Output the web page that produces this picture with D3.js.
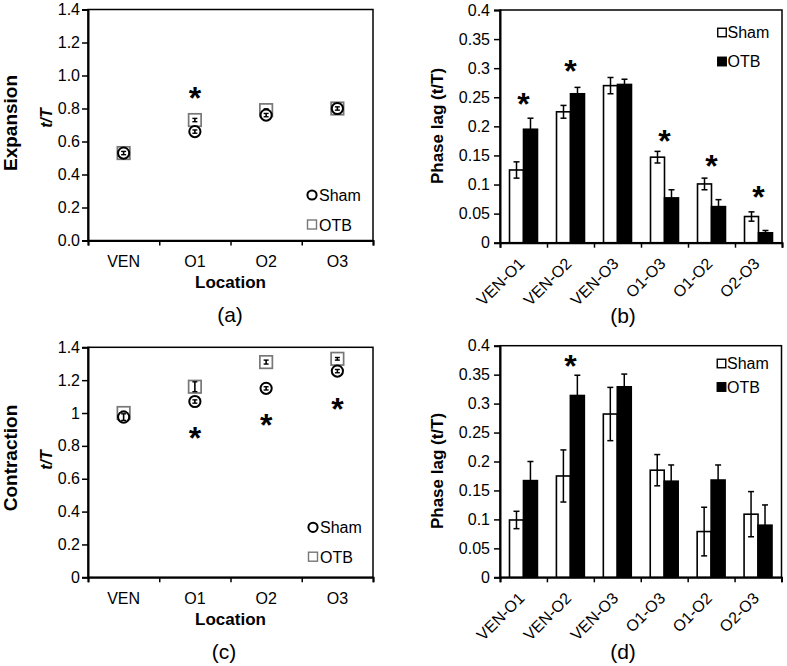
<!DOCTYPE html>
<html><head><meta charset="utf-8">
<script src="https://cdn.jsdelivr.net/npm/d3@7"></script>
<style>
html,body{margin:0;padding:0;background:#fff;}
svg text{font-family:"Liberation Sans",Arial,sans-serif;fill:#000;}
</style></head><body>
<svg id="chart" width="787" height="666"></svg>
<script>
// ---------- data ----------
const locations = ["VEN", "O1", "O2", "O3"];
const seriesNames = ["Sham", "OTB"];

const expansionSham    = [0.53, 0.66, 0.76, 0.80];
const expansionShamErr = [0.01, 0.01, 0.01, 0.01];
const expansionOtb     = [0.53, 0.73, 0.79, 0.80];
const expansionOtbErr  = [0.01, 0.01, 0.008, 0.008];
const expansionStars   = [null, 0.91, null, null];

const contractionSham    = [0.975, 1.07, 1.15, 1.255];
const contractionShamErr = [0.02, 0.01, 0.01, 0.01];
const contractionOtb     = [1.0, 1.16, 1.31, 1.33];
const contractionOtbErr  = [0.01, 0.03, 0.012, 0.008];
const contractionStars   = [null, 0.895, 0.975, 1.07];

const pairs = ["VEN-O1", "VEN-O2", "VEN-O3", "O1-O3", "O1-O2", "O2-O3"];

const expLagSham    = [0.125, 0.225, 0.270, 0.147, 0.101, 0.045];
const expLagShamErr = [0.014, 0.011, 0.014, 0.010, 0.010, 0.008];
const expLagOtb     = [0.195, 0.256, 0.272, 0.077, 0.062, 0.017];
const expLagOtbErr  = [0.019, 0.011, 0.009, 0.014, 0.012, 0.004];
const expLagStars   = [0.251, 0.308, null, 0.188, 0.144, 0.091];

const conLagSham    = [0.099, 0.175, 0.282, 0.185, 0.079, 0.109];
const conLagShamErr = [0.015, 0.045, 0.046, 0.027, 0.042, 0.039];
const conLagOtb     = [0.167, 0.314, 0.329, 0.166, 0.168, 0.090];
const conLagOtbErr  = [0.033, 0.035, 0.022, 0.028, 0.026, 0.035];
const conLagStars   = [null, 0.378, null, null, null, null];

const scatterTicks = [0, 0.2, 0.4, 0.6, 0.8, 1.0, 1.2, 1.4];
const expansionTickLabels = ["0.0", "0.2", "0.4", "0.6", "0.8", "1.0", "1.2", "1.4"];
const contractionTickLabels = ["0", "0.2", "0.4", "0.6", "0.8", "1", "1.2", "1.4"];
const lagTicks = [0, 0.05, 0.1, 0.15, 0.2, 0.25, 0.3, 0.35, 0.4];
const lagTickLabels = ["0", "0.05", "0.1", "0.15", "0.2", "0.25", "0.3", "0.35", "0.4"];

// ---------- drawing ----------
const svg = d3.select("#chart");
svg.append("rect").attr("width", 787).attr("height", 666).attr("fill", "#fff");

function styleAxis(sel, fs) {
  sel.selectAll("path.domain").attr("stroke", "#000").attr("stroke-width", 2);
  sel.selectAll(".tick line").attr("stroke", "#000").attr("stroke-width", 1.5);
  sel.selectAll(".tick text").attr("font-size", fs).attr("fill", "#000")
     .attr("font-family", '"Liberation Sans", Arial, sans-serif');
}

function star(g, x, y) {
  const fs = 32;
  g.append("text").attr("x", x).attr("y", y + 0.58 * fs)
    .attr("text-anchor", "middle").attr("font-size", fs).attr("font-weight", "bold").text("*");
}

function scatterPanel(o) {
  const g = svg.append("g");
  const x = d3.scaleBand().domain(locations).range([o.left, o.right]);
  const y = d3.scaleLinear().domain([0, 1.4]).range([o.bottom, o.top]);
  const cx = d => x(d) + x.bandwidth() / 2;

  g.append("rect").attr("x", o.left).attr("y", o.top)
    .attr("width", o.right - o.left).attr("height", o.bottom - o.top)
    .attr("fill", "none").attr("stroke", "#000").attr("stroke-width", 1.5);

  const ya = g.append("g").attr("transform", `translate(${o.left},0)`)
    .call(d3.axisLeft(y).tickValues(scatterTicks).tickFormat((d, i) => o.tickLabels[i]).tickSize(6).tickPadding(2));
  styleAxis(ya, 16);

  const xb = d3.scaleLinear().domain([0, locations.length]).range([o.left, o.right]);
  const xa = g.append("g").attr("transform", `translate(0,${o.bottom})`)
    .call(d3.axisBottom(xb).tickValues(d3.range(locations.length + 1)).tickFormat("").tickSize(5));
  styleAxis(xa, 16);
  const xl = g.append("g").attr("transform", `translate(0,${o.bottom})`)
    .call(d3.axisBottom(x).tickSize(0).tickPadding(15));
  xl.select("path.domain").remove();
  styleAxis(xl, 16);

  // squares (OTB)
  const sq = 12.5;
  g.selectAll(".sq").data(locations).join("rect")
    .attr("x", d => cx(d) - sq / 2).attr("y", (d, i) => y(o.otb[i]) - sq / 2)
    .attr("width", sq).attr("height", sq)
    .attr("fill", "#fff").attr("stroke", "#777").attr("stroke-width", 1.7);
  const errBars = (vals, errs) => {
    locations.forEach((d, i) => {
      const x0 = cx(d), y1 = y(vals[i] + errs[i]), y2 = y(vals[i] - errs[i]);
      g.append("line").attr("x1", x0).attr("x2", x0).attr("y1", y1).attr("y2", y2).attr("stroke", "#000").attr("stroke-width", 1.6);
      [y1, y2].forEach(yy => g.append("line").attr("x1", x0 - 2.5).attr("x2", x0 + 2.5).attr("y1", yy).attr("y2", yy).attr("stroke", "#000").attr("stroke-width", 1.4));
    });
  };
  errBars(o.otb, o.otbErr);
  // circles (Sham)
  g.selectAll(".ci").data(locations).join("circle")
    .attr("cx", d => cx(d)).attr("cy", (d, i) => y(o.sham[i])).attr("r", 5.6)
    .attr("fill", "#fff").attr("stroke", "#000").attr("stroke-width", 2);
  errBars(o.sham, o.shamErr);

  locations.forEach((d, i) => { if (o.stars[i] != null) star(g, cx(d), y(o.stars[i])); });

  // titles
  g.append("text").attr("transform", `translate(17,${o.titleY}) rotate(-90)`)
    .attr("text-anchor", "middle").attr("font-size", 19).attr("font-weight", "bold").text(o.title);
  g.append("text").attr("transform", `translate(52,${o.ttY}) rotate(-90)`)
    .attr("text-anchor", "middle").attr("font-size", 16).attr("font-weight", "bold").attr("font-style", "italic").text("t/T");
  g.append("text").attr("x", (o.left + o.right) / 2).attr("y", o.bottom + 47.5)
    .attr("text-anchor", "middle").attr("font-size", 17).attr("font-weight", "bold").text("Location");
  g.append("text").attr("x", o.labelX).attr("y", o.labelY)
    .attr("text-anchor", "middle").attr("font-size", 21).text(o.label);

  // legend
  const lg = g.append("g").attr("transform", `translate(${o.legX},${o.legY})`);
  lg.append("circle").attr("cx", 0).attr("cy", 0).attr("r", 4.6).attr("fill", "#fff").attr("stroke", "#000").attr("stroke-width", 2);
  lg.append("text").attr("x", 7).attr("y", 6).attr("font-size", 16).text("Sham");
  lg.append("rect").attr("x", -4.5).attr("y", o.legGap - 4.5).attr("width", 9).attr("height", 9)
    .attr("fill", "#fff").attr("stroke", "#777").attr("stroke-width", 1.4);
  lg.append("text").attr("x", 7).attr("y", o.legGap + 6).attr("font-size", 16).text("OTB");
}

function barPanel(o) {
  const g = svg.append("g");
  const x0 = d3.scaleBand().domain(pairs).range([o.left, o.right]);
  const x1 = d3.scaleBand().domain(seriesNames).range([0, x0.bandwidth()]).paddingInner(0).paddingOuter(0.68);
  const y = d3.scaleLinear().domain([0, 0.4]).range([o.bottom, o.top]);

  g.append("rect").attr("x", o.left).attr("y", o.top)
    .attr("width", o.right - o.left).attr("height", o.bottom - o.top)
    .attr("fill", "none").attr("stroke", "#000").attr("stroke-width", 1.5);

  const ya = g.append("g").attr("transform", `translate(${o.left},0)`)
    .call(d3.axisLeft(y).tickValues(lagTicks).tickFormat((d, i) => lagTickLabels[i]).tickSize(6).tickPadding(4));
  styleAxis(ya, 16);

  const series = [
    { name: "Sham", vals: o.sham, errs: o.shamErr, fill: "#fff" },
    { name: "OTB", vals: o.otb, errs: o.otbErr, fill: "#000" }
  ];
  series.forEach(s => {
    pairs.forEach((p, i) => {
      const bx = x0(p) + x1(s.name);
      g.append("rect").attr("x", bx).attr("y", y(s.vals[i]))
        .attr("width", x1.bandwidth()).attr("height", y(0) - y(s.vals[i]))
        .attr("fill", s.fill).attr("stroke", "#000").attr("stroke-width", 1.6);
    });
  });
  series.forEach(s => {
    pairs.forEach((p, i) => {
      const mx = x0(p) + x1(s.name) + x1.bandwidth() / 2;
      const y1 = y(s.vals[i] + s.errs[i]), y2 = y(s.vals[i] - s.errs[i]);
      g.append("line").attr("x1", mx).attr("x2", mx).attr("y1", y1).attr("y2", y2).attr("stroke", "#000").attr("stroke-width", 1.5);
      [y1, y2].forEach(yy => g.append("line").attr("x1", mx - 3).attr("x2", mx + 3).attr("y1", yy).attr("y2", yy).attr("stroke", "#000").attr("stroke-width", 1.5));
    });
  });

  const xb = d3.scaleLinear().domain([0, pairs.length]).range([o.left, o.right]);
  const xa = g.append("g").attr("transform", `translate(0,${o.bottom})`)
    .call(d3.axisBottom(xb).tickValues(d3.range(pairs.length + 1)).tickFormat("").tickSize(5));
  styleAxis(xa, 16);
  const xl = g.append("g").attr("transform", `translate(0,${o.bottom})`)
    .call(d3.axisBottom(x0).tickSize(0));
  xl.select("path.domain").remove();
  styleAxis(xl, 16);
  xl.selectAll(".tick text").attr("text-anchor", "end").attr("x", 0).attr("y", 0).attr("dy", 0)
    .attr("transform", "translate(2,22) rotate(-45)");

  pairs.forEach((p, i) => { if (o.stars[i] != null) star(g, x0(p) + x0.bandwidth() / 2, y(o.stars[i])); });

  g.append("text").attr("transform", `translate(443,${o.titleY}) rotate(-90)`)
    .attr("text-anchor", "middle").attr("font-size", 17).attr("font-weight", "bold").text("Phase lag (t/T)");
  g.append("text").attr("x", o.labelX).attr("y", o.labelY)
    .attr("text-anchor", "middle").attr("font-size", 21).text(o.label);

  const lg = g.append("g").attr("transform", `translate(${o.legX},${o.legY})`);
  lg.append("rect").attr("x", -4.25).attr("y", -4.25).attr("width", 8.5).attr("height", 8.5)
    .attr("fill", "#fff").attr("stroke", "#000").attr("stroke-width", 1.4);
  lg.append("text").attr("x", 5.5).attr("y", 5.8).attr("font-size", 16).text("Sham");
  lg.append("rect").attr("x", -4.25).attr("y", o.legGap - 4.25).attr("width", 8.5).attr("height", 8.5)
    .attr("fill", "#000").attr("stroke", "#000").attr("stroke-width", 1.4);
  lg.append("text").attr("x", 5.5).attr("y", o.legGap + 5.8).attr("font-size", 16).text("OTB");
}

scatterPanel({
  left: 88, right: 373, top: 9.5, bottom: 240.5,
  tickLabels: expansionTickLabels,
  sham: expansionSham, shamErr: expansionShamErr, otb: expansionOtb, otbErr: expansionOtbErr, stars: expansionStars,
  title: "Expansion", titleY: 123, ttY: 118,
  label: "(a)", labelX: 230, labelY: 322,
  legX: 312, legY: 195, legGap: 29.5
});
scatterPanel({
  left: 88, right: 373, top: 347.3, bottom: 577.3,
  tickLabels: contractionTickLabels,
  sham: contractionSham, shamErr: contractionShamErr, otb: contractionOtb, otbErr: contractionOtbErr, stars: contractionStars,
  title: "Contraction", titleY: 458, ttY: 460,
  label: "(c)", labelX: 224, labelY: 659,
  legX: 313, legY: 527.3, legGap: 29.4
});
barPanel({
  left: 500, right: 782, top: 10, bottom: 242.7,
  sham: expLagSham, shamErr: expLagShamErr, otb: expLagOtb, otbErr: expLagOtbErr, stars: expLagStars,
  titleY: 126, label: "(b)", labelX: 623, labelY: 323,
  legX: 722, legY: 32.5, legGap: 29
});
barPanel({
  left: 500, right: 781.5, top: 345.7, bottom: 577.3,
  sham: conLagSham, shamErr: conLagShamErr, otb: conLagOtb, otbErr: conLagOtbErr, stars: conLagStars,
  titleY: 471, label: "(d)", labelX: 623, labelY: 659,
  legX: 721.5, legY: 363.5, legGap: 23.5
});
</script>
</body></html>
